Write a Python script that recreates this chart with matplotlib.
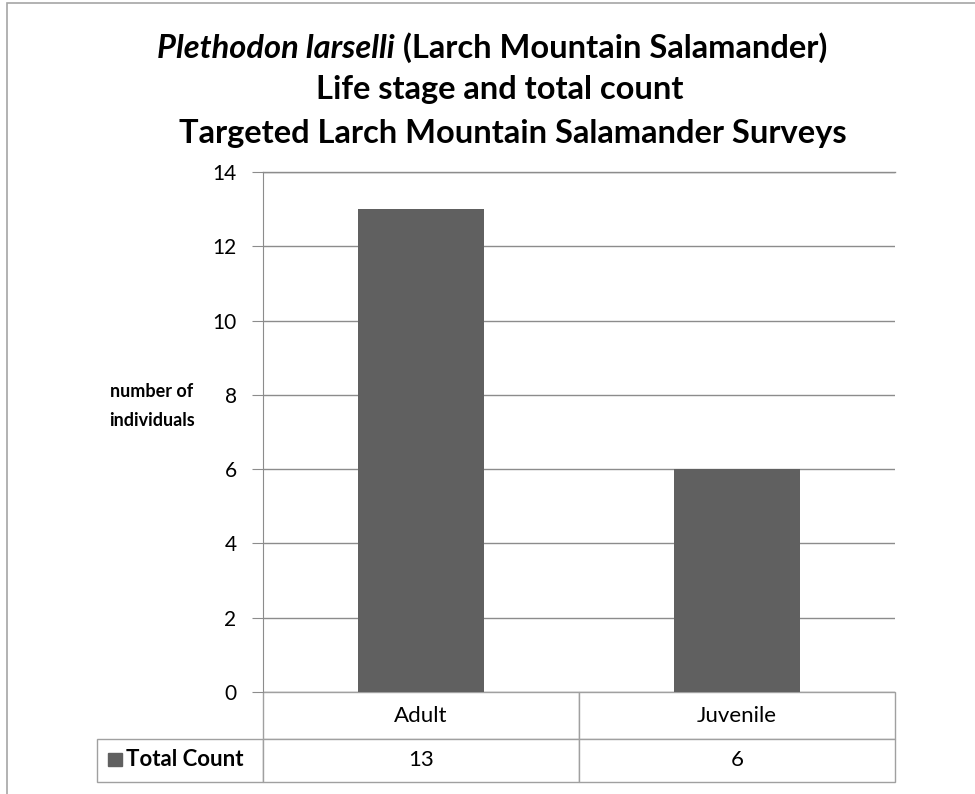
import matplotlib
matplotlib.use("Agg")
import matplotlib.pyplot as plt
from matplotlib.table import Table
from matplotlib.patches import Rectangle

categories = ["Adult", "Juvenile"]
counts = [13, 6]
series_name = "Total Count"
yticks = [0, 2, 4, 6, 8, 10, 12, 14]

plt.rcParams['font.family'] = ['Lato', 'DejaVu Sans']

W, H = 975, 794
fig = plt.figure(figsize=(W/100, H/100), dpi=100)

def fx(px): return px / W
def fy(py): return 1 - py / H

# outer chart border (left & top visible)
fig.patches.append(Rectangle((fx(7), fy(1000)), fx(1100), fy(3) - fy(1000),
                             transform=fig.transFigure, fill=False,
                             edgecolor='#a6a6a6', lw=1.2))

L, R, T, B = 263, 895, 172, 692
ax = fig.add_axes([fx(L), fy(B), fx(R) - fx(L), fy(T) - fy(B)])

bar_color = '#606060'
grid_color = '#8c8c8c'
x = list(range(len(categories)))
ax.bar(x, counts, width=0.4, color=bar_color, zorder=3)
ax.set_xlim(-0.5, len(categories) - 0.5)
ax.set_ylim(0, 14)
ax.set_yticks(yticks)
ax.set_yticklabels([str(v) for v in yticks], fontsize=15)
ax.yaxis.grid(True, color=grid_color, lw=1, zorder=0)
ax.set_axisbelow(True)
for s in ['top', 'right', 'bottom']:
    ax.spines[s].set_visible(False)
ax.spines['left'].set_color(grid_color)
ax.tick_params(axis='y', direction='out', length=8, color=grid_color, pad=11)
ax.set_xticks([])
ax.axhline(14, color=grid_color, lw=1, zorder=0, clip_on=False)

# data table
axh = B - T
row1 = (739 - 692) / axh
row2 = (782 - 739) / axh
lab_w = (L - 97) / (R - L)
col_w = 1 / len(categories)
tb = Table(ax, bbox=[0, -(row1 + row2), 1, row1 + row2])
edge = '#a0a0a0'
for j, c in enumerate(categories):
    cell = tb.add_cell(0, j, col_w, row1, text=c, loc='center')
    cell.set_edgecolor(edge)
    cell = tb.add_cell(1, j, col_w, row2, text=str(counts[j]), loc='center')
    cell.set_edgecolor(edge)
cell = tb.add_cell(1, -1, lab_w, row2, text="", loc='left')
cell.set_edgecolor(edge)
tb.auto_set_font_size(False)
tb.set_fontsize(16)
ax.add_table(tb)

# legend key square and series name
fig.patches.append(Rectangle((fx(108), fy(766)), fx(14), fy(753) - fy(766),
                             transform=fig.transFigure, color=bar_color))
fig.text(fx(126), fy(760), series_name, ha='left', va='center',
         fontsize=16, fontweight='bold')

# y label
fig.text(fx(152), fy(406), "number of\nindividuals", ha='center', va='center',
         fontsize=13, fontweight='bold', linespacing=1.85)

# title
fs = 23.5
fig.canvas.draw()
r = fig.canvas.get_renderer()
t_it = fig.text(0, fy(48), "Plethodon larselli", fontsize=fs, style='italic',
                fontweight='bold', ha='left', va='center')
t_rm = fig.text(0, fy(48), " (Larch Mountain Salamander)", fontsize=fs,
                fontweight='bold', ha='left', va='center')
w1 = t_it.get_window_extent(r).width
w2 = t_rm.get_window_extent(r).width
cx = 492
start = cx - (w1 + w2) / 2
t_it.set_x(start / W)
t_rm.set_x((start + w1) / W)
fig.text(fx(500), fy(89), "Life stage and total count", fontsize=fs,
         fontweight='bold', ha='center', va='center')
fig.text(fx(513), fy(133), "Targeted Larch Mountain Salamander Surveys",
         fontsize=fs, fontweight='bold', ha='center', va='center')

fig.savefig("out.png", dpi=100, facecolor='white')
